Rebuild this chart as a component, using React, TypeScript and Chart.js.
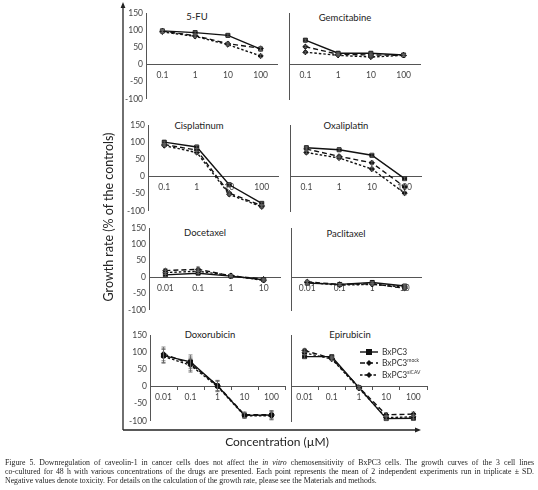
import React, { useEffect, useRef } from "react";
import { Chart, registerables } from "chart.js";

Chart.register(...registerables);

// ---------- DATA ----------
const SERIES_LABELS = ["BxPC3", "BxPC3mock", "BxPC3siCAV"];
const SERIES_BASE = ["BxPC3", "BxPC3", "BxPC3"];
const SERIES_SUP = ["", "mock", "siCAV"];

const CONC_A = ["0.1", "1", "10", "100"];
const CONC_B = ["0.01", "0.1", "1", "10"];
const CONC_C = ["0.01", "0.1", "1", "10", "100"];

const Y_MIN = -100;
const Y_MAX = 150;
const Y_STEP = 50;

const FU_BXPC3 = [98, 93, 85, 45];
const FU_MOCK = [97, 84, 61, 47];
const FU_SICAV = [95, 82, 58, 25];
const FU_ERR = [4, 4, 4, 5];

const GEM_BXPC3 = [71, 33, 33, 28];
const GEM_MOCK = [52, 30, 28, 27];
const GEM_SICAV = [36, 27, 22, 27];
const GEM_ERR = [3, 3, 3, 3];

const CIS_BXPC3 = [100, 86, -24, -78];
const CIS_MOCK = [93, 77, -48, -85];
const CIS_SICAV = [90, 70, -52, -88];
const CIS_ERR = [3, 4, 4, 4];

const OXA_BXPC3 = [84, 78, 62, -6];
const OXA_MOCK = [80, 59, 40, -30];
const OXA_SICAV = [70, 54, 22, -48];
const OXA_ERR = [4, 4, 5, 5];

const DOC_BXPC3 = [7, 12, 3, -8];
const DOC_MOCK = [20, 24, 4, -6];
const DOC_SICAV = [14, 18, 5, -10];
const DOC_ERR = [6, 7, 3, 3];

const PAC_BXPC3 = [-18, -22, -16, -27];
const PAC_MOCK = [-14, -22, -20, -34];
const PAC_SICAV = [-16, -24, -22, -30];
const PAC_ERR = [5, 3, 3, 5];

const DOX_BXPC3 = [90, 72, 2, -84, -83];
const DOX_MOCK = [95, 66, 3, -82, -82];
const DOX_SICAV = [88, 62, 0, -85, -85];
const DOX_ERR = [20, 20, 15, 8, 12];

const EPI_BXPC3 = [87, 87, -3, -93, -92];
const EPI_MOCK = [105, 82, -2, -82, -80];
const EPI_SICAV = [98, 80, -5, -90, -88];
const EPI_ERR = [5, 5, 4, 6, 6];

const TITLES = ["5-FU", "Gemcitabine", "Cisplatinum", "Oxaliplatin", "Docetaxel", "Paclitaxel", "Doxorubicin", "Epirubicin"];

// ---------- STYLE / LAYOUT ----------
const FONT = "Lato, 'Open Sans', sans-serif";
const DASHES: number[][] = [[], [5, 3], [2.5, 2]];
const POINT_STYLES = ["rect", "rectRot", "rectRot"];
const POINT_RADII = [2.8, 2.6, 2.6];

type Box = { l: number; r: number; t: number; b: number; tx: number; ty: number; showY: boolean; ticks: boolean };
const BOXES: Box[] = [
  { l: 146, r: 277, t: 13, b: 99, tx: 197, ty: 16, showY: true, ticks: false },
  { l: 289, r: 420, t: 13, b: 99, tx: 345, ty: 17, showY: false, ticks: false },
  { l: 148, r: 278, t: 125, b: 211, tx: 199, ty: 125, showY: true, ticks: false },
  { l: 290, r: 421, t: 125, b: 211, tx: 346, ty: 125, showY: false, ticks: false },
  { l: 149, r: 280, t: 228, b: 310, tx: 205, ty: 232, showY: true, ticks: false },
  { l: 291, r: 421, t: 228, b: 310, tx: 346, ty: 233, showY: false, ticks: false },
  { l: 150, r: 285, t: 335, b: 421, tx: 210, ty: 334, showY: true, ticks: true },
  { l: 291, r: 427, t: 335, b: 421, tx: 350, ty: 334, showY: false, ticks: true },
];

const PANELS = [
  { labels: CONC_A, series: [FU_BXPC3, FU_MOCK, FU_SICAV], err: FU_ERR },
  { labels: CONC_A, series: [GEM_BXPC3, GEM_MOCK, GEM_SICAV], err: GEM_ERR },
  { labels: CONC_A, series: [CIS_BXPC3, CIS_MOCK, CIS_SICAV], err: CIS_ERR },
  { labels: CONC_A, series: [OXA_BXPC3, OXA_MOCK, OXA_SICAV], err: OXA_ERR },
  { labels: CONC_B, series: [DOC_BXPC3, DOC_MOCK, DOC_SICAV], err: DOC_ERR },
  { labels: CONC_B, series: [PAC_BXPC3, PAC_MOCK, PAC_SICAV], err: PAC_ERR },
  { labels: CONC_C, series: [DOX_BXPC3, DOX_MOCK, DOX_SICAV], err: DOX_ERR },
  { labels: CONC_C, series: [EPI_BXPC3, EPI_MOCK, EPI_SICAV], err: EPI_ERR },
];

const Y_AXIS_W = 30;
const PAD_L = 40;
const PAD_T = 12;
const PAD_R = 8;
const PAD_B = 8;

const errorBarPlugin = {
  id: "errorBars",
  afterDatasetsDraw(chart: any) {
    const ctx = chart.ctx;
    const y = chart.scales.y;
    ctx.save();
    ctx.strokeStyle = "#666";
    ctx.lineWidth = 0.8;
    chart.data.datasets.forEach((ds: any, di: number) => {
      const meta = chart.getDatasetMeta(di);
      const err: number[] = ds.errorBars || [];
      meta.data.forEach((pt: any, i: number) => {
        const v = ds.data[i];
        const e = err[i] || 0;
        if (!e) return;
        const y1 = y.getPixelForValue(v + e);
        const y2 = y.getPixelForValue(v - e);
        ctx.beginPath();
        ctx.moveTo(pt.x, y1);
        ctx.lineTo(pt.x, y2);
        ctx.moveTo(pt.x - 2, y1);
        ctx.lineTo(pt.x + 2, y1);
        ctx.moveTo(pt.x - 2, y2);
        ctx.lineTo(pt.x + 2, y2);
        ctx.stroke();
      });
    });
    ctx.restore();
  },
};

function Panel({ idx }: { idx: number }) {
  const ref = useRef<HTMLCanvasElement>(null);
  const box = BOXES[idx];
  const p = PANELS[idx];
  const cl = box.l - PAD_L;
  const ct = box.t - PAD_T;
  const cw = box.r - cl + PAD_R;
  const ch = box.b - ct + PAD_B;

  useEffect(() => {
    const chart = new Chart(ref.current as HTMLCanvasElement, {
      type: "line",
      data: {
        labels: p.labels,
        datasets: p.series.map((vals, i) => ({
          label: SERIES_LABELS[i],
          data: vals,
          errorBars: p.err,
          borderColor: "#111",
          backgroundColor: "#111",
          pointBackgroundColor: "#111",
          pointBorderColor: "#111",
          borderWidth: 1.4,
          borderDash: DASHES[i],
          pointStyle: POINT_STYLES[i],
          pointRadius: POINT_RADII[i],
          pointBorderWidth: 1,
          tension: 0,
          fill: false,
        })) as any,
      },
      options: {
        animation: false,
        responsive: false,
        maintainAspectRatio: false,
        layout: { padding: { left: PAD_L - Y_AXIS_W, top: PAD_T, right: PAD_R, bottom: PAD_B } },
        plugins: { legend: { display: false }, tooltip: { enabled: false }, title: { display: false } },
        scales: {
          y: {
            type: "linear",
            position: "left",
            min: Y_MIN,
            max: Y_MAX,
            afterFit: (s: any) => {
              s.width = Y_AXIS_W;
            },
            grid: { display: false, drawTicks: false, tickLength: 0 },
            border: { display: true, color: "#555", width: 1 },
            ticks: {
              display: box.showY,
              stepSize: Y_STEP,
              padding: 3,
              color: "#444",
              font: { family: FONT, size: 8.5 },
            },
          },
          x: {
            type: "category",
            position: { y: 0 } as any,
            offset: true,
            grid: {
              display: box.ticks,
              offset: true,
              drawOnChartArea: false,
              drawTicks: box.ticks,
              tickLength: box.ticks ? 3 : 0,
              color: "#555",
            },
            border: { display: true, color: "#555", width: 1 },
            ticks: {
              autoSkip: false,
              maxRotation: 0,
              padding: box.ticks ? 3 : 6,
              color: "#444",
              font: { family: FONT, size: 8.5 },
            },
          },
        },
      } as any,
      plugins: [errorBarPlugin],
    });
    return () => chart.destroy();
  }, []);

  return (
    <canvas
      ref={ref}
      width={cw}
      height={ch}
      style={{ position: "absolute", left: cl, top: ct, width: cw, height: ch }}
    />
  );
}

function LegendRow({ i, top }: { i: number; top: number }) {
  const dash = DASHES[i].length ? DASHES[i].join(" ") : undefined;
  return (
    <div style={{ position: "absolute", left: 360, top, height: 10, display: "flex", alignItems: "center" }}>
      <svg width={18} height={10} style={{ display: "block" }}>
        <line x1={0} y1={5} x2={18} y2={5} stroke="#111" strokeWidth={1.4} strokeDasharray={dash} />
        {POINT_STYLES[i] === "rect" ? (
          <rect x={6} y={2} width={6} height={6} fill="#111" />
        ) : (
          <polygon points="9,2 12,5 9,8 6,5" fill="#111" />
        )}
      </svg>
      <span style={{ marginLeft: 4, fontFamily: FONT, fontSize: 8.5, color: "#333", whiteSpace: "nowrap" }}>
        {SERIES_BASE[i]}
        {SERIES_SUP[i] ? <sup style={{ fontSize: 5, verticalAlign: "top", position: "relative", top: -1 }}>{SERIES_SUP[i]}</sup> : null}
      </span>
    </div>
  );
}

export default function App() {
  return (
    <div style={{ position: "absolute", left: 0, top: 0, width: 538, height: 490, background: "#fff", overflow: "hidden" }}>
      {BOXES.map((b, i) => (
        <div
          key={"t" + i}
          style={{
            position: "absolute",
            left: b.tx,
            top: b.ty,
            transform: "translate(-50%, -50%)",
            fontFamily: FONT,
            fontSize: 9.5,
            color: "#222",
            whiteSpace: "nowrap",
          }}
        >
          {TITLES[i]}
        </div>
      ))}
      {PANELS.map((_, i) => (
        <Panel key={i} idx={i} />
      ))}
      <svg width={538} height={490} style={{ position: "absolute", left: 0, top: 0, pointerEvents: "none" }}>
        <line x1={123} y1={7} x2={123} y2={430} stroke="#222" strokeWidth={1.3} />
        <polygon points="123,2 120.6,8 125.4,8" fill="#222" />
        <line x1={123} y1={430} x2={415} y2={430} stroke="#222" strokeWidth={1.3} />
        <polygon points="421,430 415,427.6 415,432.4" fill="#222" />
      </svg>
      <LegendRow i={0} top={347} />
      <LegendRow i={1} top={358} />
      <LegendRow i={2} top={370} />
      <div
        style={{
          position: "absolute",
          left: 108,
          top: 217,
          transform: "translate(-50%, -50%) rotate(-90deg)",
          fontFamily: FONT,
          fontSize: 12.5,
          color: "#222",
          whiteSpace: "nowrap",
        }}
      >
        Growth rate (% of the controls)
      </div>
      <div
        style={{
          position: "absolute",
          left: 277,
          top: 441,
          transform: "translate(-50%, -50%)",
          fontFamily: FONT,
          fontSize: 12,
          color: "#222",
          whiteSpace: "nowrap",
        }}
      >
        Concentration (µM)
      </div>
      <div
        style={{
          position: "absolute",
          left: 5,
          top: 458,
          width: 529,
          fontFamily: "'Liberation Serif', 'DejaVu Serif', serif",
          fontSize: 7.8,
          lineHeight: "9px",
          color: "#222",
        }}
      >
        <div style={{ textAlign: "justify", textAlignLast: "justify" }}>
          Figure 5. Downregulation of caveolin-1 in cancer cells does not affect the <i>in vitro</i> chemosensitivity of BxPC3 cells. The growth curves of the 3 cell lines
        </div>
        <div style={{ textAlign: "justify", textAlignLast: "justify" }}>
          co-cultured for 48 h with various concentrations of the drugs are presented. Each point represents the mean of 2 independent experiments run in triplicate ± SD.
        </div>
        <div>Negative values denote toxicity. For details on the calculation of the growth rate, please see the Materials and methods.</div>
      </div>
    </div>
  );
}
